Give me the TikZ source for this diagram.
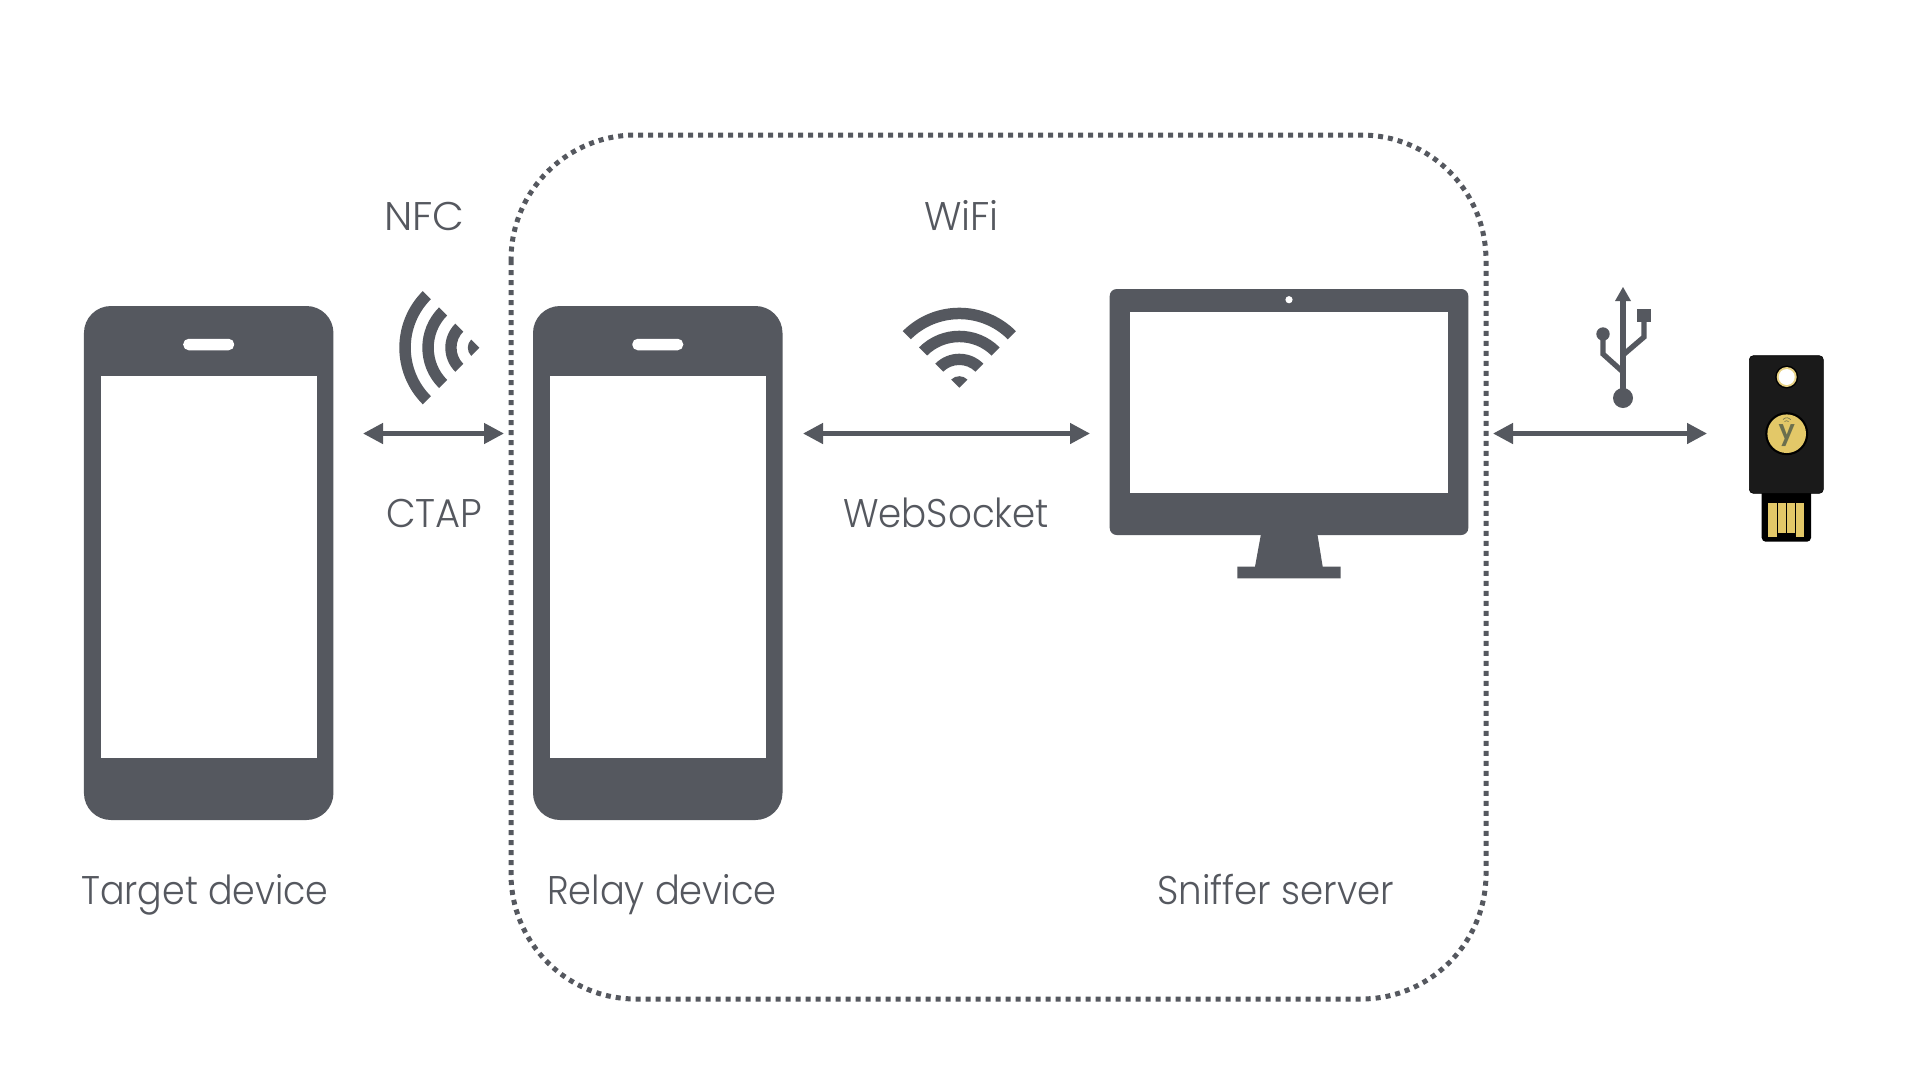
\documentclass[tikz,border=0pt]{standalone}
\usepackage{graphicx}
\usepackage{fontspec}
\usetikzlibrary{arrows.meta}
\setmainfont{Poppins Light}
\definecolor{ink}{HTML}{55585F}
\definecolor{gold}{HTML}{E3C868}
\definecolor{keyblack}{HTML}{1A1A1A}
\definecolor{keyletterc}{HTML}{6B6F4E}
\tikzset{
  phonebody/.style={fill=ink,draw=none,rounded corners=27pt,minimum width=249.5pt,minimum height=514pt,inner sep=0pt},
  phonescreen/.style={fill=white,draw=none,minimum width=216.5pt,minimum height=382.5pt,inner sep=0pt},
  speaker/.style={fill=white,draw=none,rounded corners=5.5pt,minimum width=51pt,minimum height=11.5pt,inner sep=0pt},
  link/.style={draw=ink,line width=4.5pt,{Triangle[length=20pt,width=20pt]}-{Triangle[length=20pt,width=20pt]}},
  lbl/.style={text=ink,font=\fontsize{40}{44}\selectfont,anchor=base west,inner sep=0pt},
  usbline/.style={draw=ink,line width=5.3pt,line join=miter},
}
\newcommand{\bandset}[1]{%
  \foreach \ro/\ri in {80/68.5,57/45.5,34/22.7}{
    \fill[ink] (#1-45:\ro pt) arc[start angle=#1-45,end angle=#1+45,radius=\ro pt]
      -- (#1+45:\ri pt) arc[start angle=#1+45,end angle=#1-45,radius=\ri pt] -- cycle;
  }
  \fill[ink] (0,0) -- (#1-45:11.5pt) arc[start angle=#1-45,end angle=#1+45,radius=11.5pt] -- cycle;
}
\begin{document}
\begin{tikzpicture}[x=1pt,y=-1pt]
\useasboundingbox (0,0) rectangle (1920,1080);
\fill[white] (0,0) rectangle (1920,1080);

% dotted group
\draw[ink,line width=5pt,dash pattern=on 5pt off 5pt,rounded corners=125pt] (511,135) rectangle (1486,999);

% phones
\node[phonebody] (target) at (208.7,563) {};
\node[phonescreen] (targetscreen) at (209,567) {};
\node[speaker] (targetspeaker) at (208.7,344.5) {};
\node[phonebody] (relay) at (657.75,563) {};
\node[phonescreen] (relayscreen) at (658,567) {};
\node[speaker] (relayspeaker) at (657.75,344.5) {};

% monitor
\fill[ink] (1261.7,530) -- (1316.7,530) -- (1322.7,566.7) -- (1340.7,566.7) -- (1340.7,578.3) -- (1237.3,578.3) -- (1237.3,566.7) -- (1255,566.7) -- cycle;
\node[fill=ink,rounded corners=7pt,minimum width=358.6pt,minimum height=246pt,inner sep=0pt] (monitor) at (1289,412) {};
\node[fill=white,minimum width=317.7pt,minimum height=181pt,inner sep=0pt] (monitorscreen) at (1288.85,402.5) {};
\fill[white] (1289,299.7) circle[radius=3.6pt];

% radio icons
\begin{scope}[shift={(479.3,347.7)}]\bandset{180}\end{scope}
\begin{scope}[shift={(959.3,387.7)}]\bandset{90}\end{scope}

% usb icon
\draw[usbline] (1623,298) -- (1623,398);
\fill[ink] (1623,287) -- (1631,301) -- (1615,301) -- cycle;
\fill[ink] (1623,398) circle[radius=10pt];
\draw[usbline] (1644,320) -- (1644,337) -- (1623,355);
\fill[ink] (1637.3,309) rectangle (1650.7,322);
\draw[usbline] (1603,334) -- (1603,354) -- (1623,372);
\fill[ink] (1603,334) circle[radius=6.7pt];

% connectors
\coordinate (a1) at (363,433.5); \coordinate (a2) at (504,433.5);
\coordinate (b1) at (803,433.5); \coordinate (b2) at (1090,433.5);
\coordinate (c1) at (1493,433.5); \coordinate (c2) at (1707,433.5);
\draw[link] (a1) -- (a2);
\draw[link] (b1) -- (b2);
\draw[link] (c1) -- (c2);

% security key
\node[fill=black,rounded corners=4pt,minimum width=49.3pt,minimum height=60pt,inner sep=0pt] (keyplug) at (1786.35,511.7) {};
\node[fill=keyblack,draw=black,line width=0.6pt,rounded corners=4pt,minimum width=74pt,minimum height=137.6pt,inner sep=0pt] (keybody) at (1786.3,424.5) {};
\fill[black] (1786.7,377) circle[radius=11.5pt];
\fill[gold!80!white] (1786.7,377) circle[radius=10pt];
\fill[white] (1786.7,377) circle[radius=8pt];
\fill[black] (1786.7,433.7) circle[radius=21.5pt];
\node[fill=gold,circle,minimum size=38.6pt,inner sep=0pt] (keybutton) at (1786.7,433.7) {};
\node[text=keyletterc,font=\fontspec{Poppins SemiBold}\fontsize{27}{30}\selectfont,inner sep=0pt] (keyletter) at (1786.7,436) {y};
\draw[keyletterc,line width=0.6pt] (1783,419.5) arc[start angle=140,end angle=40,radius=5pt];
\draw[keyletterc,line width=0.6pt] (1784.5,421.5) arc[start angle=130,end angle=50,radius=3.2pt];
\fill[gold] (1768.3,502.7) rectangle (1777.3,536.7);
\fill[gold] (1778,502.7) rectangle (1786.3,532.7);
\fill[gold] (1787.3,502.7) rectangle (1795.3,532.7);
\fill[gold] (1796,502.7) rectangle (1804.3,536.7);

% labels
\node[lbl] (nfc) at (384,230) {\scalebox{1.03}[1]{NFC}};
\node[lbl] (wifi) at (924,230) {\scalebox{0.98}[1]{WiFi}};
\node[lbl] (ctap) at (386,527) {\scalebox{0.96}[1]{CTAP}};
\node[lbl] (websocket) at (843,527) {\scalebox{0.93}[1]{WebSocket}};
\node[lbl] (targetlbl) at (81,904) {\scalebox{0.91}[1]{Target device}};
\node[lbl] (relaylbl) at (547,904) {\scalebox{0.92}[1]{Relay device}};
\node[lbl] (snifferlbl) at (1157,904) {\scalebox{0.93}[1]{Sniffer server}};
\end{tikzpicture}
\end{document}
